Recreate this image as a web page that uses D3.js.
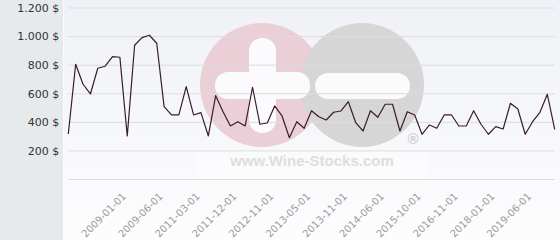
<!DOCTYPE html>
<html>
<head>
<meta charset="utf-8">
<script src="https://cdn.jsdelivr.net/npm/d3@7"></script>
<style>
  html, body { margin: 0; padding: 0; background: #fff; }
  svg { display: block; }
  .y-axis text { fill: #333; font-size: 11px; font-family: "DejaVu Sans", Verdana, sans-serif; }
  .x-axis text { fill: #9a9a9a; font-size: 10px; font-family: "DejaVu Sans", Verdana, sans-serif; }
  .grid line { stroke: #dddddd; stroke-width: 1; }
</style>
</head>
<body>
<svg id="chart" width="560" height="240"></svg>
<script>
// prices, one per sale date
const prices = [
  315, 803, 663, 595, 775, 789, 856, 852, 301, 936,
  989, 1006, 950, 506, 448, 448, 646, 448, 464, 301,
  583, 471, 371, 401, 371, 642, 383, 392, 511, 441,
  289, 401, 355, 478, 436, 413, 467, 476, 541, 394,
  336, 478, 432, 523, 523, 336, 471, 448, 313, 378,
  355, 448, 448, 371, 371, 478, 383, 313, 366, 350,
  530, 490, 313, 401, 467, 593, 348
];

// every fifth date is labelled, starting at the ninth point
const dateLabels = [
  "2009-01-01", "2009-06-01", "2011-03-01", "2011-12-01",
  "2012-11-01", "2013-05-01", "2013-11-01", "2014-06-01",
  "2015-10-01", "2016-11-01", "2018-01-01", "2019-06-01"
];
const firstLabel = 8;
const labelStep = 5;

const yTicks = [0, 200, 400, 600, 800, 1000, 1200];

const svg = d3.select("#chart");
const W = 560, H = 240;
const plotL = 68.3, plotR = 554.7, plotT = 7.5, plotB = 179;

// backgrounds
const defs = svg.append("defs");
const grad = defs.append("linearGradient")
  .attr("id", "plotbg").attr("x1", 0).attr("y1", 0).attr("x2", 0).attr("y2", 1);
grad.append("stop").attr("offset", "0%").attr("stop-color", "#eff1f6");
grad.append("stop").attr("offset", "100%").attr("stop-color", "#fdfdfe");

svg.append("rect").attr("width", W).attr("height", H).attr("fill", "url(#plotbg)");
svg.append("rect").attr("width", 63).attr("height", H).attr("fill", "#e7eaed");
svg.append("line")
  .attr("x1", 63.5).attr("x2", 63.5).attr("y1", 0).attr("y2", H)
  .attr("stroke", "#fafbfc");

// watermark
const wm = svg.append("g").attr("class", "watermark");
wm.append("circle").attr("cx", 262).attr("cy", 85).attr("r", 62).attr("fill", "#eacfd7");
wm.append("circle").attr("cx", 362).attr("cy", 85).attr("r", 62).attr("fill", "#d6d6d6");
wm.append("rect").attr("x", 249).attr("y", 38).attr("width", 27).attr("height", 95)
  .attr("rx", 13).attr("fill", "#fbfbfd");
wm.append("rect").attr("x", 215).attr("y", 72).attr("width", 95).attr("height", 27)
  .attr("rx", 13).attr("fill", "#fbfbfd");
wm.append("rect").attr("x", 315).attr("y", 73).attr("width", 95).attr("height", 26)
  .attr("rx", 13).attr("fill", "#fbfbfd");
wm.append("rect").attr("x", 197).attr("y", 150).attr("width", 230).attr("height", 28)
  .attr("fill", "#ffffff").attr("opacity", 0.35);
wm.append("text")
  .attr("x", 312).attr("y", 166)
  .attr("text-anchor", "middle")
  .style("font-family", "'Liberation Sans', Arial, sans-serif")
  .style("font-weight", "bold")
  .style("font-size", "15px")
  .attr("fill", "#dedede")
  .text("www.Wine-Stocks.com");
wm.append("text")
  .attr("x", 413).attr("y", 144)
  .attr("text-anchor", "middle")
  .style("font-family", "'Liberation Sans', Arial, sans-serif")
  .style("font-weight", "bold")
  .style("font-size", "15px")
  .attr("fill", "#d0d0d0")
  .text("®");

// scales
const x = d3.scaleLinear().domain([0, prices.length - 1]).range([plotL, plotR]);
const y = d3.scaleLinear().domain([0, 1200]).range([plotB, plotT]);

const fmt = d3.formatLocale({ decimal: ",", thousands: ".", grouping: [3], currency: ["", " $"] })
  .format("$,.0f");

// y axis with grid lines
const yAxis = svg.append("g")
  .attr("class", "y-axis grid")
  .attr("transform", `translate(${plotL},0)`)
  .call(d3.axisLeft(y)
    .tickValues(yTicks)
    .tickSize(-(plotR - plotL))
    .tickPadding(9)
    .tickFormat(d => d === 0 ? "" : fmt(d)));
yAxis.select(".domain").remove();
yAxis.selectAll("text").attr("dy", "0.35em");

// x axis labels
const labelIdx = dateLabels.map((d, i) => firstLabel + i * labelStep);
const xAxis = svg.append("g")
  .attr("class", "x-axis")
  .attr("transform", `translate(0,${plotB})`)
  .call(d3.axisBottom(x)
    .tickValues(labelIdx)
    .tickSize(0)
    .tickFormat((d, i) => dateLabels[i]));
xAxis.select(".domain").remove();
xAxis.selectAll("text")
  .attr("text-anchor", "end")
  .attr("dy", null)
  .attr("y", null)
  .attr("transform", "translate(-1,18) rotate(-45)");

// price line
svg.append("path")
  .datum(prices)
  .attr("fill", "none")
  .attr("stroke", "#3a1c2a")
  .attr("stroke-width", 1.2)
  .attr("stroke-linejoin", "round")
  .attr("d", d3.line().x((d, i) => x(i)).y(d => y(d)));
</script>
</body>
</html>
